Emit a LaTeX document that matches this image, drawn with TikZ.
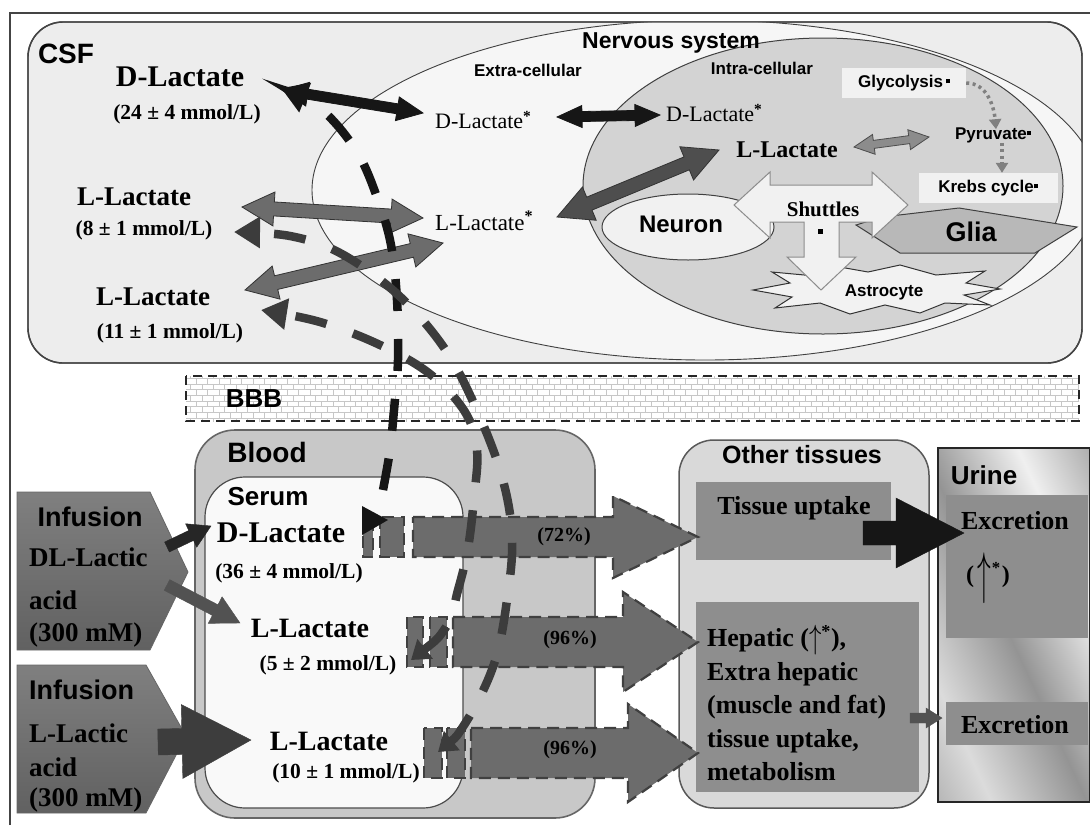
\documentclass[tikz,border=0pt]{standalone}
\usepackage{fontspec}
\setmainfont{Liberation Serif}
\setsansfont{Liberation Sans}
\usetikzlibrary{calc,arrows.meta,patterns,shapes.geometric}
\newcommand\fsz[1]{\fontsize{#1}{#1}\selectfont}
\definecolor{csfbg}{HTML}{EDEDED}
\definecolor{nsbg}{HTML}{F6F6F6}
\definecolor{intrabg}{HTML}{D3D3D3}
\definecolor{lightbox}{HTML}{F1F1F1}
\definecolor{gliac}{HTML}{B8B8B8}
\definecolor{bloodc}{HTML}{C8C8C8}
\definecolor{serumc}{HTML}{F9F9F9}
\definecolor{otherc}{HTML}{D9D9D9}
\definecolor{tissc}{HTML}{8E8E8E}
\definecolor{midarrow}{HTML}{6C6C6C}
\definecolor{darkarrow}{HTML}{4E4E4E}
\definecolor{dashg}{HTML}{3C3C3C}
\definecolor{blk}{HTML}{161616}
\definecolor{edge}{HTML}{444444}
\pgfdeclarehorizontalshading{urineshade}{100bp}{color(0bp)=(black!50); color(28bp)=(black!14); color(48bp)=(black!42); color(68bp)=(black!6); color(85bp)=(black!35); color(100bp)=(black!55)}
% double-headed block arrow: [style]{A}{B}{shaft half width}{head half width}{head length}
\newcommand\dblarrow[6][]{%
  \draw[#1] (#2) -- ($(#2)!#6!(#3)!#5!90:(#3)$) -- ($(#2)!#6!(#3)!#4!90:(#3)$)
    -- ($(#3)!#6!(#2)!#4!-90:(#2)$) -- ($(#3)!#6!(#2)!#5!-90:(#2)$) -- (#3)
    -- ($(#3)!#6!(#2)!#5!90:(#2)$) -- ($(#3)!#6!(#2)!#4!90:(#2)$)
    -- ($(#2)!#6!(#3)!#4!-90:(#3)$) -- ($(#2)!#6!(#3)!#5!-90:(#3)$) -- cycle;}
% single block arrow from tail A to tip B
\newcommand\sarrow[6][]{%
  \draw[#1] ($(#2)!#4!90:(#3)$) -- ($(#3)!#6!(#2)!#4!-90:(#2)$) -- ($(#3)!#6!(#2)!#5!-90:(#2)$)
    -- (#3) -- ($(#3)!#6!(#2)!#5!90:(#2)$) -- ($(#3)!#6!(#2)!#4!90:(#2)$)
    -- ($(#2)!#4!-90:(#3)$) -- cycle;}
\tikzset{
  sfl/.style={font=\sffamily\bfseries\fsz{#1}, inner sep=0pt},
  sbl/.style={font=\bfseries\fsz{#1}, inner sep=0pt},
  srl/.style={font=\fsz{#1}, inner sep=0pt},
  midarr/.style={fill=midarrow, draw=black!80, line width=0.8pt},
  blkarr/.style={fill=blk, draw=blk, line width=0.8pt},
  darkarr/.style={fill=darkarrow, draw=black!80, line width=0.8pt},
  bigarr/.style={fill=midarrow, draw=black!75, line width=2.2pt, dash pattern=on 12pt off 7pt},
  dline/.style={line width=8.5pt, dash pattern=on 32pt off 28pt},
  dotarr/.style={draw=black!50, line width=3.5pt, dash pattern=on 3pt off 3.5pt, -{Triangle[length=10pt,width=12pt]}},
  tbox/.style={fill=tissc, draw=none},
}
\begin{document}
\begin{tikzpicture}[x=1pt,y=-1pt]
\useasboundingbox (0,0) rectangle (1090,825);
\fill[white] (0,0) rectangle (1090,825);
\draw[edge, line width=1.3pt] (10,825) -- (10,13) -- (1090,13);

% ---------------- CSF ----------------
\draw[fill=csfbg, draw=edge, line width=1.4pt, rounded corners=35pt] (28,22) rectangle (1082,363);
\begin{scope}
  \clip[rounded corners=35pt] (28,22) rectangle (1082,363);
  \draw[fill=nsbg, draw=black!75, line width=0.9pt] (705,190) ellipse [x radius=393, y radius=170];
\end{scope}
\draw[draw=edge, line width=1.4pt, rounded corners=35pt] (28,22) rectangle (1082,363);
\draw[fill=intrabg, draw=black!75, line width=1pt] (823,186) ellipse [x radius=240, y radius=148];

\node[sfl=28] (csf) at (66,54) {CSF};
\node[sbl=30] (csfD) at (180,77) {D-Lactate};
\node[sbl=21.5] (csfDc) at (187,114) {(24 ± 4 mmol/L)};
\node[sbl=27] (csfL1) at (134,197) {L-Lactate};
\node[sbl=21.5] (csfL1c) at (144,230) {(8 ± 1 mmol/L)};
\node[sbl=27] (csfL2) at (153,297) {L-Lactate};
\node[sbl=21.5] (csfL2c) at (170,333) {(11 ± 1 mmol/L)};

\node[sfl=23] (ns) at (671,43) {Nervous system};
\node[sfl=17] (extra) at (528,70) {Extra-cellular};
\node[sfl=17] (intra) at (762,68) {Intra-cellular};

\node[srl=22, anchor=west] (exD) at (435,120) {D-Lactate\textsuperscript{\bfseries *}};
\node[srl=23, anchor=west] (exL) at (435,221) {L-Lactate\textsuperscript{\bfseries *}};
\node[srl=22, anchor=west] (inD) at (666,113) {D-Lactate\textsuperscript{\bfseries *}};
\node[sbl=24] (inL) at (787,150) {L-Lactate};

\node[fill=lightbox, minimum width=124pt, minimum height=30pt, inner sep=0pt, font=\sffamily\bfseries\fsz{17}] (gly) at (904,83) {Glycolysis\,\raisebox{4pt}{\rule{4pt}{4pt}}};
\node[sfl=17] (pyr) at (993,135) {Pyruvate\raisebox{4pt}{\rule{4pt}{4pt}}};
\node[fill=lightbox, minimum width=139pt, minimum height=30pt, inner sep=0pt, font=\sffamily\bfseries\fsz{17}] (krebs) at (988,188) {Krebs cycle\raisebox{4pt}{\rule{4pt}{4pt}}};
\draw[dotarr] (gly.east) to[out=0, in=95] ([xshift=3pt,yshift=-2pt]pyr.north);
\draw[dotarr] ([xshift=9pt]pyr.south) -- ([xshift=9pt]pyr.south |- krebs.north);

% neuron, glia, astrocyte, shuttles
\node[draw=black!75, fill=lightbox, ellipse, line width=1pt, minimum width=172pt, minimum height=66pt] (neuron) at (688,227) {};
\draw[fill=gliac, draw=black!75, line width=1pt] (856,225) -- (900,253) -- (1035,253) -- (1077,227) -- (959,208) -- (882,217) -- cycle;
\draw[fill=white!95!black, draw=black!80, line width=1pt]
  (753,290) -- (790,283) -- (772,272) -- (815,276) -- (834,266) -- (868,272) -- (900,265) -- (936,275) -- (985,271) -- (966,283) -- (1000,289)
  -- (964,295) -- (990,305) -- (945,303) -- (920,313) -- (885,305) -- (850,314) -- (820,303) -- (775,308) -- (792,297) -- cycle;
\draw[fill=lightbox, draw=black!45, line width=1pt]
  (734,205) -- (770,172) -- (770,185) -- (872,185) -- (872,172) -- (908,205) -- (872,238) -- (872,222) -- (839,222) -- (839,257)
  -- (856,257) -- (821,290) -- (787,257) -- (804,257) -- (804,222) -- (770,222) -- (770,238) -- cycle;
\node[sfl=24] (neurontxt) at (681,224) {Neuron};
\node[sfl=27] (glia) at (971,232) {Glia};
\node[sfl=17] (astro) at (884,292) {Astrocyte};
\node[sbl=21] (shut) at (823,209) {Shuttles};
\node[fill=black, minimum size=5pt, inner sep=0pt] (shutsq) at (820,231) {};

% CSF block arrows
\coordinate (dA) at (282,90);  \coordinate (dB) at (423,113);
\coordinate (dC) at (557,117); \coordinate (dD) at (660,115);
\coordinate (l1A) at (242,207); \coordinate (l1B) at (423,218);
\coordinate (l2A) at (245,290); \coordinate (l2B) at (443,243);
\coordinate (lxA) at (557,217); \coordinate (lxB) at (719,150);
\coordinate (lpA) at (854,147); \coordinate (lpB) at (929,137);
\dblarrow[blkarr]{dA}{dB}{5pt}{12pt}{26pt}
\dblarrow[blkarr]{dC}{dD}{5pt}{11pt}{25pt}
\dblarrow[midarr]{l1A}{l1B}{7pt}{17pt}{32pt}
\dblarrow[midarr]{l2A}{l2B}{7pt}{17pt}{32pt}
\dblarrow[darkarr]{lxA}{lxB}{7pt}{18pt}{35pt}
\dblarrow[fill=black!45, draw=black!70, line width=0.8pt]{lpA}{lpB}{4pt}{10pt}{20pt}

% ---------------- BBB ----------------
\fill[white] (186,376) rectangle (1079,421);
\fill[pattern=bricks, pattern color=black!22] (186,376) rectangle (1079,421);
\draw[black!85, line width=2pt, dash pattern=on 9pt off 6pt] (186,376) rectangle (1079,421);
\node[sfl=26] (bbb) at (254,399) {BBB};

% ---------------- Blood ----------------
\draw[fill=bloodc, draw=black!60, line width=1.6pt, rounded corners=40pt] (195,430) rectangle (595,818);
\draw[fill=serumc, draw=black!70, line width=1.2pt, rounded corners=40pt] (205,477) rectangle (463,808);
\node[sfl=28] (blood) at (267,452) {Blood};
\node[sfl=26] (serum) at (268,497) {Serum};
\node[sbl=30] (sD) at (281,533) {D-Lactate};
\node[sbl=21.5] (sDc) at (289,573) {(36 ± 4 mmol/L)};
\node[sbl=28] (sL1) at (310,628) {L-Lactate};
\node[sbl=21.5] (sL1c) at (328,665) {(5 ± 2 mmol/L)};
\node[sbl=28] (sL2) at (329,741) {L-Lactate};
\node[sbl=21.5] (sL2c) at (346,773) {(10 ± 1 mmol/L)};

% Infusion boxes
\shade[top color=black!50, middle color=black!8, bottom color=black!62, draw=black!60, line width=0.8pt]
  (17,492) -- (150,492) -- (188,572) -- (150,650) -- (17,650) -- cycle;
\shade[top color=black!50, middle color=black!8, bottom color=black!62, draw=black!60, line width=0.8pt]
  (17,665) -- (146,665) -- (186,736) -- (146,813) -- (17,813) -- cycle;
\node[sfl=27] (inf1) at (90,517) {Infusion};
\node[sbl=27, anchor=west] (dl) at (29,557) {DL-Lactic};
\node[sbl=27, anchor=west] (acid1) at (29,600) {acid};
\node[sbl=27, anchor=west] (mm1) at (29,635) {(300 mM)};
\node[sfl=27, anchor=west] (inf2) at (29,690) {Infusion};
\node[sbl=27, anchor=west] (ll) at (29,733) {L-Lactic};
\node[sbl=27, anchor=west] (acid2) at (29,767) {acid};
\node[sbl=27, anchor=west] (mm2) at (29,800) {(300 mM)};

\coordinate (i1a) at (167,547); \coordinate (i1b) at (211,526);
\coordinate (i2a) at (167,585); \coordinate (i2b) at (240,623);
\coordinate (i3a) at (158,742); \coordinate (i3b) at (251,740);
\sarrow[fill=black!85, draw=black!85]{i1a}{i1b}{5.5pt}{13pt}{22pt}
\sarrow[fill=black!68, draw=black!68]{i2a}{i2b}{6pt}{15pt}{28pt}
\sarrow[fill=black!76, draw=black!76]{i3a}{i3b}{13pt}{37pt}{69pt}

% ---------------- Other tissues / Urine ----------------
\draw[fill=otherc, draw=black!65, line width=1.5pt, rounded corners=35pt] (679,440) rectangle (929,808);
\node[sfl=25] (other) at (802,455) {Other tissues};
\node[tbox, minimum width=195pt, minimum height=78pt] (tu) at (793.5,521) {};
\node[sbl=26] (tutxt) at (794,508) {Tissue uptake};
\node[tbox, minimum width=223pt, minimum height=190pt] (hep) at (807.5,697) {};
\node[sbl=26, anchor=north west, align=left, font=\bfseries\fontsize{26}{33.5}\selectfont] (heptxt) at (707,625)
  {Hepatic (\raisebox{-2pt}{\scalebox{1}[1.35]{$\uparrow$}}\textsuperscript{*}),\\Extra hepatic\\(muscle and fat)\\tissue uptake,\\metabolism};

\shade[shading=urineshade, shading angle=25, draw=black!85, line width=1.2pt] (938,448) rectangle (1090,802);
\node[sfl=26] (urine) at (984,475) {Urine};
\node[tbox, minimum width=142pt, minimum height=143pt] (ex1) at (1017,566.5) {};
\node[sbl=26] (ex1t) at (1015,521) {Excretion};
\node[inner sep=0pt] (ex1a) at (988,578) {\bfseries\fsz{24}(\hspace{3pt}\raisebox{-10pt}{\scalebox{1.1}[2.3]{$\uparrow$}}\hspace{1pt}\textsuperscript{*}\hspace{1pt})};
\node[tbox, minimum width=142pt, minimum height=43pt] (ex2) at (1017,723.5) {};
\node[sbl=26] (ex2t) at (1015,725) {Excretion};

\coordinate (tuA) at (863,533); \coordinate (tuB) at (964,533);
\sarrow[fill=blk, draw=blk]{tuA}{tuB}{12pt}{35pt}{68pt}
\coordinate (hpA) at (910,718); \coordinate (hpB) at (942,718);
\sarrow[fill=black!68, draw=black!68]{hpA}{hpB}{5pt}{10pt}{16pt}

% ---------------- big dashed horizontal arrows ----------------
\draw[bigarr] (363,517) rectangle (373,557);
\draw[bigarr] (380,517) rectangle (404,557);
\coordinate (a1a) at (413,537); \coordinate (a1b) at (698,537);
\sarrow[bigarr]{a1a}{a1b}{20pt}{41pt}{85pt}
\draw[bigarr] (407,617) rectangle (423,667);
\draw[bigarr] (430,617) rectangle (447,667);
\coordinate (a2a) at (453,642); \coordinate (a2b) at (698,642);
\sarrow[bigarr]{a2a}{a2b}{25pt}{50pt}{75pt}
\draw[bigarr] (424,728) rectangle (442,778);
\draw[bigarr] (447,728) rectangle (465,778);
\coordinate (a3a) at (471,753); \coordinate (a3b) at (698,753);
\sarrow[bigarr]{a3a}{a3b}{25pt}{49pt}{70pt}
\node[sbl=20] (p72) at (564,537) {(72\%)};
\node[sbl=20] (p96a) at (570,640) {(96\%)};
\node[sbl=20] (p96b) at (570,750) {(96\%)};

% ---------------- dashed transfer lines ----------------
\coordinate (bkBot) at (383,490); \coordinate (bkTop) at (281,88);
\draw[dline, draw=blk, -{Triangle[length=26pt,width=30pt]}] plot[smooth, tension=0.6] coordinates
  {(bkBot) (390,450) (394,410) (398,360) (397,300) (391,245) (378,200) (357,152) (322,110) (bkTop)};
\fill[blk] (362,506) -- (388,520) -- (362,535) -- cycle;

\coordinate (yS) at (438,752); \coordinate (yE) at (234,232);
\draw[dline, draw=dashg, {Triangle[length=18pt,width=24pt]}-{Triangle[length=26pt,width=30pt]}] plot[smooth, tension=0.6] coordinates
  {(yS) (466,722) (494,664) (507,600) (512,535) (500,470) (470,395) (440,342) (395,292) (340,253) (290,236) (yE)};

\coordinate (bS) at (411,660); \coordinate (bE) at (261,310);
\draw[dline, draw=dashg, {Triangle[length=18pt,width=24pt]}-{Triangle[length=26pt,width=30pt]}] plot[smooth, tension=0.6] coordinates
  {(bS) (446,627) (458,590) (468,548) (474,498) (477,450) (465,412) (430,374) (380,345) (320,322) (bE)};
\end{tikzpicture}
\end{document}
